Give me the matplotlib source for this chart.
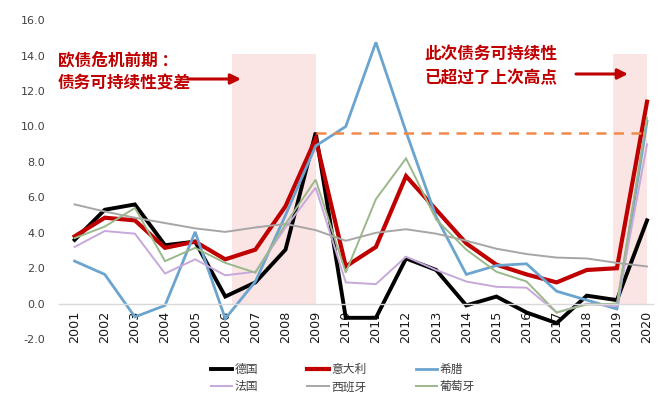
import matplotlib
matplotlib.use("Agg")
import matplotlib.pyplot as plt
from matplotlib.patches import Rectangle, FancyArrowPatch

plt.rcParams["font.family"] = ["Noto Sans CJK SC", "DejaVu Sans"]

years = list(range(2001, 2021))

germany = [3.6, 5.3, 5.6, 3.3, 3.5, 0.4, 1.2, 3.05, 9.65, -0.8,
           -0.8, 2.55, 1.9, -0.1, 0.4, -0.5, -1.1, 0.45, 0.2, 4.7]
italy = [3.8, 4.85, 4.7, 3.15, 3.5, 2.5, 3.05, 5.5, 9.3, 2.1,
         3.2, 7.2, 5.3, 3.4, 2.2, 1.65, 1.2, 1.9, 2.0, 11.4]
greece = [2.4, 1.65, -0.75, -0.1, 4.05, -0.85, 1.25, 5.0, 8.9, 10.0,
          14.75, 9.7, 4.9, 1.65, 2.15, 2.25, 0.7, 0.2, -0.3, 10.3]
france = [3.2, 4.1, 3.95, 1.7, 2.5, 1.6, 1.8, 4.3, 6.55, 1.2,
          1.1, 2.65, 1.9, 1.25, 0.95, 0.9, -0.5, 0.0, -0.15, 9.0]
spain = [5.6, 5.2, 4.85, 4.55, 4.25, 4.05, 4.3, 4.5, 4.15, 3.55,
         4.0, 4.2, 3.95, 3.55, 3.1, 2.8, 2.6, 2.55, 2.3, 2.1]
portugal = [3.7, 4.35, 5.4, 2.4, 3.15, 2.3, 1.75, 4.5, 7.0, 1.75,
            5.9, 8.2, 4.75, 3.05, 1.8, 1.25, -0.5, -0.05, 0.0, 10.5]

series = [
    ("德国", germany, "#000000", 2.8),
    ("意大利", italy, "#C00000", 3.0),
    ("希腊", greece, "#6AA4CF", 2.0),
    ("法国", france, "#C7A8DA", 1.4),
    ("西班牙", spain, "#A6A6A6", 1.4),
    ("葡萄牙", portugal, "#9BB88A", 1.4),
]

# crisis windows and the previous peak level
shade_spans = [(2006.22, 2009.0), (2018.88, 2020.0)]
shade_top = 14.1
peak_level = 9.65

fig = plt.figure(figsize=(6.59, 4.12), dpi=100)
ax = fig.add_axes([0.0895, 0.177, 0.9015, 0.774])

# zero-line axis: set before styling ticks, since it resets them
for side in ["top", "right", "left"]:
    ax.spines[side].set_visible(False)
ax.spines["bottom"].set_position(("data", 0))
ax.spines["bottom"].set_color("#D9D9D9")
ax.spines["bottom"].set_linewidth(1.0)

for x0, x1 in shade_spans:
    ax.add_patch(Rectangle((x0, 0), x1 - x0, shade_top, facecolor="#FBE4E4",
                           edgecolor="none", zorder=0))

draw_order = [4, 3, 5, 2, 0, 1]
for i in draw_order:
    name, vals, color, lw = series[i]
    ax.plot(years, vals, color=color, lw=lw, label=name, zorder=2 + i * 0.1,
            solid_joinstyle="miter")

ax.plot([2009, 2020], [peak_level, peak_level], color="#F0894A", lw=1.8,
        ls=(0, (4, 3)), zorder=3)

ax.set_xlim(2000.48, 2020.2)
ax.set_ylim(-2, 16)
ax.set_yticks([-2, 0, 2, 4, 6, 8, 10, 12, 14, 16])
ax.set_yticklabels([f"{v:.1f}" for v in ax.get_yticks()], fontsize=8,
                   color="#404040", family="DejaVu Sans")
ax.set_xticks(years)
ax.set_xticklabels([str(y) for y in years], rotation=90, fontsize=9.2,
                   color="#1a1a1a", family="DejaVu Sans")
ax.tick_params(axis="both", length=0)
ax.tick_params(axis="y", pad=10)
ax.tick_params(axis="x", pad=5)

red = "#C00000"
fig.text(58 / 659, 1 - 72 / 412, "欧债危机前期 ：\n债务可持续性变差", color=red,
         fontsize=12, fontweight="bold", va="center", ha="left",
         linespacing=1.35)
fig.text(424 / 659, 1 - 66 / 412, "此次债务可持续性\n已超过了上次高点", color=red,
         fontsize=12, fontweight="bold", va="center", ha="left",
         linespacing=1.45)

arrow_kw = dict(arrowstyle="-|>,head_length=0.5,head_width=0.25", color=red,
                lw=2.2, shrinkA=0, shrinkB=0, mutation_scale=12,
                transform=fig.transFigure)
fig.add_artist(FancyArrowPatch((188 / 659, 1 - 79 / 412),
                               (241 / 659, 1 - 79 / 412), **arrow_kw))
fig.add_artist(FancyArrowPatch((576 / 659, 1 - 74 / 412),
                               (628 / 659, 1 - 74 / 412), **arrow_kw))

handles, labels = ax.get_legend_handles_labels()
by_label = dict(zip(labels, handles))
# legend fills column by column
order = ["德国", "法国", "意大利", "西班牙", "希腊", "葡萄牙"]
leg = fig.legend([by_label[k] for k in order], order, ncol=3, frameon=False,
                 loc="center left", bbox_to_anchor=(200 / 659, 1 - 378 / 412),
                 fontsize=8.5, handlelength=1.8, handletextpad=0.2,
                 columnspacing=4.2, labelspacing=0.4)
for t in leg.get_texts():
    t.set_color("#404040")

fig.savefig("out.png", dpi=100)
